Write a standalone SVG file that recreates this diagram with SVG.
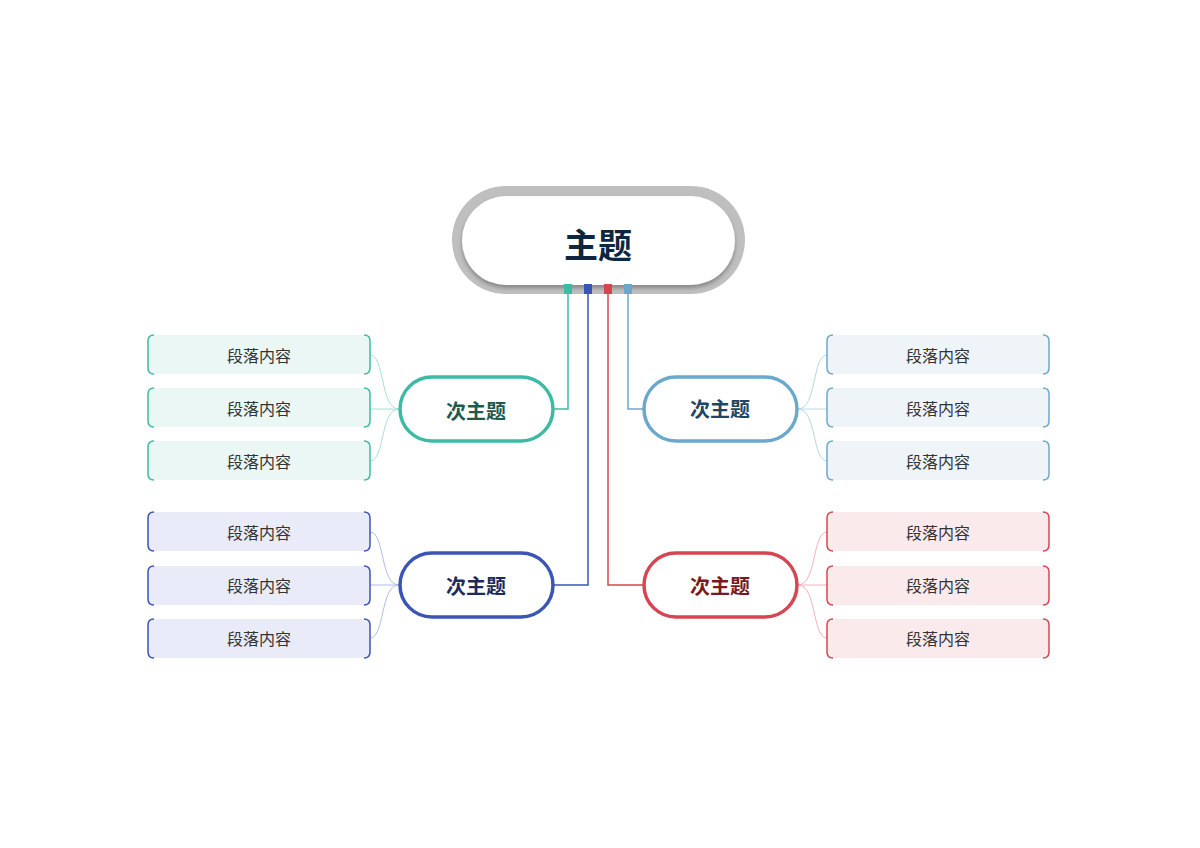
<svg xmlns="http://www.w3.org/2000/svg" width="1200" height="848" viewBox="0 0 1200 848">
<defs>
<style>
text{font-family:"Noto Sans CJK SC","Noto Sans",sans-serif;text-anchor:middle;dominant-baseline:central}
.leaf{font-size:16px;fill:#333}
.sub{font-size:20px;font-weight:bold}
.br{fill:none;stroke-width:1.5}
.lk{fill:none;stroke-width:1}
</style>
<filter id="sh" x="-10%" y="-10%" width="120%" height="130%"><feDropShadow dx="0" dy="3" stdDeviation="2" flood-color="#000" flood-opacity="0.3"/></filter>
</defs>
<rect width="1200" height="848" fill="#fff"/>
<g id="connectors">
<path d="M568,290V409H554" fill="none" stroke="#3dbaa3" stroke-width="1.5"/>
<path d="M588,290V585H554" fill="none" stroke="#3a55b5" stroke-width="1.5"/>
<path d="M608,290V585H643" fill="none" stroke="#d64552" stroke-width="1.5"/>
<path d="M628,290V409H643" fill="none" stroke="#6aa9cc" stroke-width="1.5"/>
<g stroke="#a9e0d5" class="lk"><path d="M399,409C380,409 385,355 370,355"/><path d="M399,409H370"/><path d="M399,409C380,409 385,461 370,461"/></g>
<g stroke="#b3bbe6" class="lk"><path d="M399,585C380,585 385,532 370,532"/><path d="M399,585H370"/><path d="M399,585C380,585 385,638 370,638"/></g>
<g stroke="#b9d7e8" class="lk"><path d="M798,409C817,409 812,355 827,355"/><path d="M798,409H827"/><path d="M798,409C817,409 812,461 827,461"/></g>
<g stroke="#efb3b8" class="lk"><path d="M798,585C817,585 812,532 827,532"/><path d="M798,585H827"/><path d="M798,585C817,585 812,638 827,638"/></g>
</g>
<g id="main">
<rect x="452" y="186" width="293" height="108" rx="54" fill="#bfbfbf"/>
<rect x="462" y="196" width="273" height="89" rx="44.5" fill="#fff" filter="url(#sh)"/>
<rect x="564" y="284" width="8" height="10" fill="#3dbaa3"/>
<rect x="584" y="284" width="8" height="10" fill="#3a55b5"/>
<rect x="604" y="284" width="8" height="10" fill="#d64552"/>
<rect x="624" y="284" width="8" height="10" fill="#6aa9cc"/>
<text x="598" y="243" style="font-size:34px;font-weight:bold;fill:#0f2640">主题</text>
</g>
<g id="sub1"><rect x="400" y="377" width="153" height="64" rx="32" fill="#fff" stroke="#3dbaa3" stroke-width="3.5"/><text class="sub" x="476" y="410" fill="#1f5a4d">次主题</text></g>
<g id="sub2"><rect x="400" y="553" width="153" height="64" rx="32" fill="#fff" stroke="#3a55b5" stroke-width="3.5"/><text class="sub" x="476" y="585" fill="#1e2a5e">次主题</text></g>
<g id="sub3"><rect x="644" y="377" width="153" height="64" rx="32" fill="#fff" stroke="#6aa9cc" stroke-width="3.5"/><text class="sub" x="720" y="408" fill="#1f4660">次主题</text></g>
<g id="sub4"><rect x="644" y="553" width="153" height="64" rx="32" fill="#fff" stroke="#d64552" stroke-width="3.5"/><text class="sub" x="720" y="585" fill="#7a1a20">次主题</text></g>
<g id="leaf-l1"><rect x="148" y="335" width="222" height="39" rx="5" fill="#eaf7f4"/><path class="br" stroke="#3dbaa3" d="M154,335Q148,335 148,341V368Q148,374 154,374M364,335Q370,335 370,341V368Q370,374 364,374"/><text class="leaf" x="259" y="355">段落内容</text></g>
<g id="leaf-l2"><rect x="148" y="388" width="222" height="39" rx="5" fill="#eaf7f4"/><path class="br" stroke="#3dbaa3" d="M154,388Q148,388 148,394V421Q148,427 154,427M364,388Q370,388 370,394V421Q370,427 364,427"/><text class="leaf" x="259" y="408">段落内容</text></g>
<g id="leaf-l3"><rect x="148" y="441" width="222" height="39" rx="5" fill="#eaf7f4"/><path class="br" stroke="#3dbaa3" d="M154,441Q148,441 148,447V474Q148,480 154,480M364,441Q370,441 370,447V474Q370,480 364,480"/><text class="leaf" x="259" y="461">段落内容</text></g>
<g id="leaf-l4"><rect x="148" y="512" width="222" height="39" rx="5" fill="#e9ebf8"/><path class="br" stroke="#3a55b5" d="M154,512Q148,512 148,518V545Q148,551 154,551M364,512Q370,512 370,518V545Q370,551 364,551"/><text class="leaf" x="259" y="532">段落内容</text></g>
<g id="leaf-l5"><rect x="148" y="566" width="222" height="39" rx="5" fill="#e9ebf8"/><path class="br" stroke="#3a55b5" d="M154,566Q148,566 148,572V599Q148,605 154,605M364,566Q370,566 370,572V599Q370,605 364,605"/><text class="leaf" x="259" y="585">段落内容</text></g>
<g id="leaf-l6"><rect x="148" y="619" width="222" height="39" rx="5" fill="#e9ebf8"/><path class="br" stroke="#3a55b5" d="M154,619Q148,619 148,625V652Q148,658 154,658M364,619Q370,619 370,625V652Q370,658 364,658"/><text class="leaf" x="259" y="638">段落内容</text></g>
<g id="leaf-r1"><rect x="827" y="335" width="222" height="39" rx="5" fill="#eff4f9"/><path class="br" stroke="#6aa9cc" d="M833,335Q827,335 827,341V368Q827,374 833,374M1043,335Q1049,335 1049,341V368Q1049,374 1043,374"/><text class="leaf" x="938" y="355">段落内容</text></g>
<g id="leaf-r2"><rect x="827" y="388" width="222" height="39" rx="5" fill="#eff4f9"/><path class="br" stroke="#6aa9cc" d="M833,388Q827,388 827,394V421Q827,427 833,427M1043,388Q1049,388 1049,394V421Q1049,427 1043,427"/><text class="leaf" x="938" y="408">段落内容</text></g>
<g id="leaf-r3"><rect x="827" y="441" width="222" height="39" rx="5" fill="#eff4f9"/><path class="br" stroke="#6aa9cc" d="M833,441Q827,441 827,447V474Q827,480 833,480M1043,441Q1049,441 1049,447V474Q1049,480 1043,480"/><text class="leaf" x="938" y="461">段落内容</text></g>
<g id="leaf-r4"><rect x="827" y="512" width="222" height="39" rx="5" fill="#faeaeb"/><path class="br" stroke="#d64552" d="M833,512Q827,512 827,518V545Q827,551 833,551M1043,512Q1049,512 1049,518V545Q1049,551 1043,551"/><text class="leaf" x="938" y="532">段落内容</text></g>
<g id="leaf-r5"><rect x="827" y="566" width="222" height="39" rx="5" fill="#faeaeb"/><path class="br" stroke="#d64552" d="M833,566Q827,566 827,572V599Q827,605 833,605M1043,566Q1049,566 1049,572V599Q1049,605 1043,605"/><text class="leaf" x="938" y="585">段落内容</text></g>
<g id="leaf-r6"><rect x="827" y="619" width="222" height="39" rx="5" fill="#faeaeb"/><path class="br" stroke="#d64552" d="M833,619Q827,619 827,625V652Q827,658 833,658M1043,619Q1049,619 1049,625V652Q1049,658 1043,658"/><text class="leaf" x="938" y="638">段落内容</text></g>
</svg>
